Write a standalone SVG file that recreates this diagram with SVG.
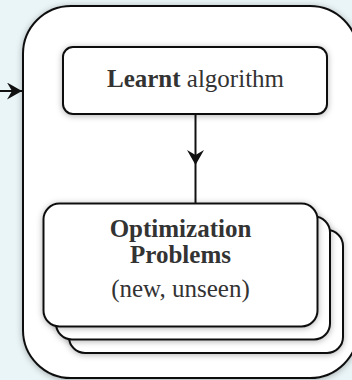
<svg xmlns="http://www.w3.org/2000/svg" width="352" height="380" viewBox="0 0 352 380">
  <defs>
    <filter id="shadow" x="-20%" y="-20%" width="140%" height="140%">
      <feDropShadow dx="0" dy="1" stdDeviation="3" flood-color="#000" flood-opacity="0.3"/>
    </filter>
    <marker id="stealth" markerUnits="userSpaceOnUse" markerWidth="18" markerHeight="18" refX="15" refY="8.5" orient="auto">
      <path d="M0,0 L15,8.5 L0,17 L5,8.5 Z" fill="#111"/>
    </marker>
  </defs>
  <style>
    .box { fill: #fff; stroke: #111; stroke-width: 2; filter: url(#shadow); }
    .edge { fill: none; stroke: #111; stroke-width: 2; }
    .txt { font-family: "Liberation Serif", "Times New Roman", serif; font-size: 25px; fill: #333; text-anchor: middle; }
    .b { font-weight: bold; }
  </style>

  <rect width="352" height="380" fill="#eaf5f7"/>

  <!-- outer container -->
  <g id="container">
    <rect class="box" x="23" y="6" width="335" height="372" rx="48"/>
  </g>

  <g id="connectors">
    <path class="edge" d="M0,91 L22,91" marker-end="url(#stealth)"/>
    <path class="edge" d="M195.5,114 L195.5,165 L195.5,203" marker-mid="url(#stealth)"/>
  </g>

  <g id="learnt-algorithm">
    <rect class="box" x="63" y="47" width="264" height="67" rx="10"/>
    <text class="txt" x="195.5" y="87"><tspan class="b">Learnt</tspan> algorithm</text>
  </g>

  <g id="optimization-problems">
    <rect class="box" x="69" y="230" width="274" height="123" rx="16"/>
    <rect class="box" x="56" y="216.5" width="274" height="123" rx="16"/>
    <rect class="box" x="43.5" y="203.5" width="274" height="123" rx="16"/>
    <text class="txt b" x="180.5" y="237">Optimization</text>
    <text class="txt b" x="180.5" y="263">Problems</text>
    <text class="txt" x="180.5" y="297">(new, unseen)</text>
  </g>
</svg>
